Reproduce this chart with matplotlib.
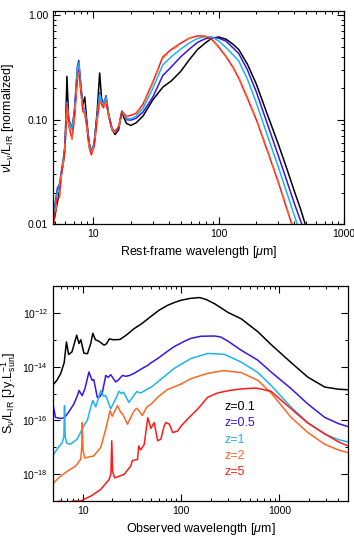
import numpy as np
import matplotlib
matplotlib.use('Agg')
import matplotlib.pyplot as plt
from matplotlib.ticker import FixedLocator, LogLocator, FuncFormatter, NullFormatter

plt.rcParams['font.family'] = ['Liberation Sans', 'DejaVu Sans']
plt.rcParams['mathtext.fontset'] = 'custom'
plt.rcParams['mathtext.rm'] = 'Liberation Sans'
plt.rcParams['mathtext.it'] = 'Liberation Sans:italic'
plt.rcParams['mathtext.bf'] = 'Liberation Sans:bold'

# --- верхняя панель: SED в системе покоя (нормированные) ---
lam_rest = [4.8, 5.2, 5.4, 5.6, 5.9, 6.0, 6.2, 6.4, 6.8, 7.1, 7.5, 7.7, 8.0, 8.3, 8.6,
            8.9, 9.3, 9.7, 10.2, 10.8, 11.3, 11.7, 12.1, 12.7, 13.3, 14.2, 15.0, 16.0,
            17.0, 17.6, 18.5, 20, 22, 25, 30, 36, 42, 50, 58, 68, 78, 88, 100, 115,
            130, 145, 170, 200, 250, 300, 350, 400, 450, 500, 550]
sed_black = [0.0095, 0.016, 0.021, 0.030, 0.045, 0.06, 0.26, 0.10, 0.082, 0.11, 0.27, 0.33,
             0.20, 0.14, 0.165, 0.10, 0.06, 0.049, 0.058, 0.12, 0.28, 0.16, 0.14, 0.16, 0.11,
             0.08, 0.072, 0.08, 0.12, 0.105, 0.092, 0.088, 0.093, 0.108, 0.155, 0.205, 0.235,
             0.29, 0.37, 0.47, 0.54, 0.60, 0.62, 0.59, 0.53, 0.47, 0.34, 0.22, 0.105, 0.058,
             0.034, 0.021, 0.014, 0.0093, 0.0063]
sed_blue = [0.0115, 0.022, 0.024, 0.032, 0.048, 0.062, 0.15, 0.10, 0.083, 0.12, 0.32, 0.37,
            0.22, 0.13, 0.125, 0.095, 0.06, 0.05, 0.058, 0.11, 0.18, 0.15, 0.14, 0.17, 0.115,
            0.082, 0.077, 0.085, 0.12, 0.112, 0.10, 0.099, 0.103, 0.118, 0.165, 0.265, 0.32,
            0.40, 0.47, 0.55, 0.595, 0.615, 0.605, 0.565, 0.49, 0.43, 0.30, 0.185, 0.085,
            0.045, 0.026, 0.016, 0.0108, 0.0075, 0.005]
sed_cyan = [0.011, 0.02, 0.023, 0.031, 0.047, 0.06, 0.145, 0.098, 0.08, 0.115, 0.30, 0.35,
            0.21, 0.13, 0.125, 0.093, 0.058, 0.049, 0.057, 0.108, 0.175, 0.15, 0.138, 0.165,
            0.113, 0.08, 0.076, 0.085, 0.12, 0.113, 0.102, 0.102, 0.108, 0.128, 0.20, 0.335,
            0.40, 0.475, 0.54, 0.60, 0.625, 0.62, 0.57, 0.49, 0.42, 0.365, 0.245, 0.145,
            0.066, 0.035, 0.02, 0.0123, 0.008, 0.0055, 0.0038]
sed_red = [0.0095, 0.018, 0.018, 0.03, 0.045, 0.06, 0.14, 0.09, 0.065, 0.10, 0.25, 0.29,
           0.19, 0.12, 0.115, 0.088, 0.055, 0.046, 0.055, 0.10, 0.15, 0.14, 0.13, 0.15, 0.11,
           0.08, 0.075, 0.085, 0.12, 0.115, 0.107, 0.11, 0.115, 0.14, 0.23, 0.40, 0.47, 0.54,
           0.60, 0.635, 0.63, 0.59, 0.50, 0.40, 0.32, 0.25, 0.16, 0.10, 0.047, 0.025, 0.014,
           0.0085, 0.0056, 0.0039, 0.0027]
sed_orange = [0.0095, 0.017, 0.018, 0.029, 0.044, 0.058, 0.135, 0.088, 0.066, 0.098, 0.24,
              0.28, 0.185, 0.12, 0.113, 0.087, 0.055, 0.046, 0.055, 0.10, 0.148, 0.138,
              0.128, 0.148, 0.11, 0.08, 0.075, 0.085, 0.118, 0.113, 0.106, 0.108, 0.113,
              0.138, 0.225, 0.39, 0.46, 0.535, 0.60, 0.64, 0.635, 0.595, 0.505, 0.405,
              0.325, 0.255, 0.163, 0.102, 0.048, 0.0255, 0.0143, 0.0087, 0.0057, 0.004,
              0.0028]

# --- нижняя панель: наблюдаемые потоки (log10 S/L_IR) ---
obs_z01 = [5.0, 5.5, 6.0, 6.5, 6.85, 7.2, 7.8, 8.3, 8.7, 9.2, 9.6, 10.3, 11.2, 12.1, 12.7,
           13.5, 14.6, 16.5, 17.5, 18.7, 20.5, 24, 28, 33, 40, 50, 60, 73, 85, 100, 125,
           155, 180, 220, 300, 410, 605, 826, 1320, 1950, 2900, 4000, 5000]
logS_z01 = [-14.68, -14.5, -14.25, -13.85, -13.08, -13.55, -13.45, -13.1, -12.83, -13.14,
            -13.0, -13.5, -13.52, -13.14, -12.76, -13.0, -13.05, -13.2, -13.15, -12.97,
            -13.0, -12.99, -12.82, -12.6, -12.4, -12.12, -11.9, -11.72, -11.62, -11.53,
            -11.46, -11.43, -11.5, -11.66, -11.98, -12.22, -12.7, -13.18, -13.85, -14.39,
            -14.76, -14.84, -14.86]

obs_z05 = [5.0, 5.3, 6.0, 6.5, 7.0, 7.5, 8.15, 8.8, 9.2, 9.9, 10.6, 11.6, 12.5, 13.0, 14.1,
           15.0, 15.9, 17.2, 18.2, 19.3, 21.7, 23, 25.4, 27.5, 30, 33.4, 39, 46, 50, 58, 73,
           85, 108, 126, 160, 220, 255, 300, 410, 605, 826, 1320, 1950, 2900, 4000, 5000]
logS_z05 = [-15.4, -15.89, -15.93, -15.9, -15.76, -15.6, -15.39, -15.1, -14.89, -15.08,
            -14.8, -14.2, -14.51, -14.48, -15.14, -15.12, -14.95, -14.33, -14.4, -14.3,
            -14.57, -14.5, -14.33, -14.36, -14.33, -14.25, -14.1, -13.95, -13.85, -13.7,
            -13.43, -13.26, -13.06, -12.95, -12.87, -12.86, -12.9, -13.05, -13.39, -13.76,
            -14.2, -14.82, -15.39, -15.89, -16.12, -16.23]

obs_z1 = [5.0, 5.5, 6.2, 6.45, 6.55, 6.65, 6.9, 7.5, 8.8, 10.3, 11.2, 12.1, 12.7, 13.6,
          15.3, 16.3, 17.2, 19.3, 21.7, 23.4, 24.8, 26, 29.6, 35.5, 39, 45, 50, 58, 85, 126,
          187, 276, 410, 605, 826, 1320, 1950, 2900, 4000, 5000]
logS_z1 = [-17.3, -17.07, -16.83, -16.6, -15.45, -16.6, -16.85, -16.89, -16.7, -16.2,
           -15.99, -15.51, -15.26, -15.5, -14.89, -15.1, -15.07, -15.57, -15.2, -14.92,
           -15.0, -14.95, -15.33, -14.93, -14.98, -14.85, -14.76, -14.57, -14.07, -13.7,
           -13.51, -13.54, -13.83, -14.22, -14.7, -15.51, -16.08, -16.51, -16.72, -16.8]

obs_z2 = [5.0, 5.7, 7.0, 8.5, 9.55, 9.8, 9.93, 10.1, 10.5, 13.0, 15.3, 17.2, 19.0, 20.0,
          22.6, 24.4, 25.4, 28.6, 33.4, 35.5, 37.6, 40.5, 45, 49.5, 58, 73, 100, 126, 187,
          270, 410, 605, 826, 1320, 1950, 2900, 4000, 5000]
logS_z2 = [-18.35, -18.14, -17.89, -17.7, -17.45, -17.0, -16.08, -17.1, -17.4, -17.32,
           -17.01, -16.32, -15.64, -15.85, -15.45, -15.7, -15.75, -16.14, -15.64, -15.55,
           -15.65, -15.82, -15.5, -15.4, -15.14, -14.85, -14.65, -14.45, -14.25, -14.15,
           -14.22, -14.51, -14.98, -15.89, -16.45, -16.89, -17.1, -17.2]

obs_z5 = [5.0, 6.0, 7.0, 8.0, 9.5, 12.1, 15.3, 18.6, 19.4, 19.8, 20.2, 21.2, 26.4, 30.9,
          32, 36.2, 37.2, 39, 42.3, 46, 49.5, 53.5, 57.9, 62.5, 67.6, 70.3, 76.2, 82.3,
          92.5, 101, 117, 149, 187, 236, 320, 410, 556, 605, 826, 1320, 1950, 2900, 4000,
          5000]
logS_z5 = [-19.05, -19.0, -19.08, -19.0, -19.0, -18.82, -18.57, -18.2, -18.0, -16.76,
           -17.9, -18.14, -18.01, -17.7, -17.5, -17.45, -16.95, -17.1, -16.9, -15.9, -16.3,
           -16.08, -16.76, -16.7, -16.2, -16.08, -16.14, -16.45, -16.4, -16.2, -15.95,
           -15.57, -15.14, -14.98, -14.88, -14.83, -14.8, -14.81, -14.92, -15.57, -16.1,
           -16.5, -16.8, -16.95]

z_labels = ['z=0.1', 'z=0.5', 'z=1', 'z=2', 'z=5']
colors = ['black', '#3814ea', '#1eb2f0', '#ff6622', '#ff1a1a']

fig = plt.figure(figsize=(3.54, 5.5), dpi=100)
ax1 = fig.add_axes([53/354, 1 - 224/550, 291/354, 213/550])
ax2 = fig.add_axes([53/354, 1 - 501/550, 295/354, 215/550])

lw = 1.1
ax1.plot(lam_rest, sed_black, color=colors[0], lw=lw)
ax1.plot(lam_rest, sed_blue, color=colors[1], lw=lw)
ax1.plot(lam_rest, sed_cyan, color=colors[2], lw=lw)
ax1.plot(lam_rest, sed_red, color=colors[4], lw=lw)
ax1.plot(lam_rest, sed_orange, color=colors[3], lw=lw, dashes=(5, 5))

ax1.set_xscale('log')
ax1.set_yscale('log')
ax1.set_xlim(4.8, 1000)
ax1.set_ylim(0.01, 1.1)
ax1.xaxis.set_major_formatter(FuncFormatter(lambda v, p: '%d' % v))
ax1.yaxis.set_major_locator(FixedLocator([0.01, 0.1, 1.0]))
ax1.yaxis.set_major_formatter(FuncFormatter(lambda v, p: '%.2f' % v))
ax1.set_xlabel(r'Rest-frame wavelength [$\mu$m]', fontsize=9)
ax1.set_ylabel(r'$\nu$L$_\nu$/L$_{\rm IR}$ [normalized]', fontsize=9)
ax1.yaxis.set_label_coords(-0.128, 0.5)

series = [(obs_z01, logS_z01), (obs_z05, logS_z05), (obs_z1, logS_z1),
          (obs_z2, logS_z2), (obs_z5, logS_z5)]
for (lam, logs), c in zip(series, colors):
    ax2.plot(lam, 10.0**np.array(logs), color=c, lw=lw)

ax2.set_xscale('log')
ax2.set_yscale('log')
ax2.set_xlim(5, 5000)
ax2.set_ylim(1e-19, 1e-11)
ax2.xaxis.set_major_formatter(FuncFormatter(lambda v, p: '%d' % v))
ax2.yaxis.set_major_locator(FixedLocator([1e-18, 1e-16, 1e-14, 1e-12]))
ax2.yaxis.set_minor_locator(FixedLocator([1e-19, 1e-17, 1e-15, 1e-13, 1e-11]))
ax2.yaxis.set_minor_formatter(NullFormatter())
ax2.yaxis.set_major_formatter(FuncFormatter(lambda v, p: r'10$^{%d}$' % round(np.log10(v))))
ax2.set_xlabel(r'Observed wavelength [$\mu$m]', fontsize=9)
ax2.set_ylabel(r'S$_\nu$/L$_{\rm IR}$ [Jy.L$_{\rm sun}^{-1}$]', fontsize=9)
ax2.yaxis.set_label_coords(-0.118, 0.5)

for i, (lab, c) in enumerate(zip(z_labels, colors)):
    ax2.text(0.582, 0.4386 - i*0.0765, lab, color=c, fontsize=9,
             transform=ax2.transAxes, va='center', ha='left')

for ax in (ax1, ax2):
    ax.xaxis.set_minor_locator(LogLocator(base=10, subs=np.arange(2, 10), numticks=20))
    ax.xaxis.set_minor_formatter(NullFormatter())
    ax.tick_params(which='both', direction='in', top=True, right=True, labelsize=7.5)
    ax.tick_params(which='major', length=5, width=0.8)
    ax.tick_params(which='minor', length=2.5, width=0.7)
    for s in ax.spines.values():
        s.set_linewidth(0.9)
ax1.yaxis.set_minor_locator(LogLocator(base=10, subs=np.arange(2, 10), numticks=20))
ax1.yaxis.set_minor_formatter(NullFormatter())

fig.savefig('out.png', dpi=100)
